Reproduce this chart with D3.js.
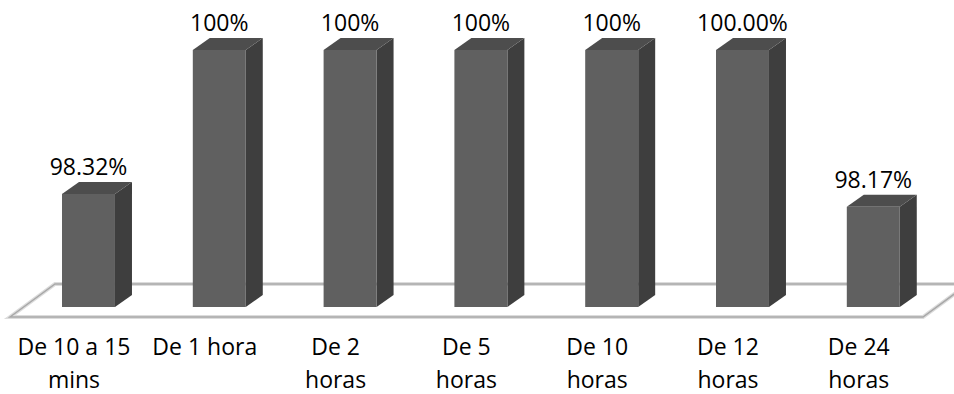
<!DOCTYPE html>
<html>
<head>
  <meta charset="utf-8">
  <title>3D bars</title>
  <script src="https://d3js.org/d3.v7.min.js"></script>
  <style>
    body { margin: 0; background: #fff; }
    text { font-family: "Open Sans", sans-serif; fill: #000; }
  </style>
</head>
<body>
  <div id="chart"></div>
  <script>
    // data
    var categories = ["De 10 a 15 mins", "De 1 hora", "De 2 horas", "De 5 horas", "De 10 horas", "De 12 horas", "De 24 horas"];
    var categoryLines = [["De 10 a 15", "mins"], ["De 1 hora"], ["De 2", "horas"], ["De 5", "horas"], ["De 10", "horas"], ["De 12", "horas"], ["De 24", "horas"]];
    var values = [98.32, 100, 100, 100, 100, 100, 98.17];
    var valueLabels = ["98.32%", "100%", "100%", "100%", "100%", "100.00%", "98.17%"];

    var width = 954, height = 394;
    var depthX = 17, depthY = -12;   // 3d offset of the bars

    var svg = d3.select("#chart").append("svg")
      .attr("width", width)
      .attr("height", height);

    // band scale for the front face of each bar
    var step = 130.8, pad = 0.595, firstLeft = 62;
    var x = d3.scaleBand()
      .domain(categories)
      .paddingInner(pad)
      .paddingOuter(0.5)
      .range([firstLeft - step * 0.5, firstLeft - step * 0.5 + step * (categories.length - pad + 1)]);

    var y = d3.scaleLinear()
      .domain([97, 100])
      .range([307, 50]);

    // floor (parallelogram)
    var floorFront = 317, floorBack = 284;
    var floorPts = [[10, floorFront], [55, floorBack], [968, floorBack], [923, floorFront]];
    svg.append("path")
      .attr("d", "M" + floorPts.map(function(p) { return p.join(","); }).join("L") + "Z")
      .attr("fill", "#fff")
      .attr("stroke", "#dcdcdc")
      .attr("stroke-width", 4);
    svg.append("path")
      .attr("d", "M" + floorPts.map(function(p) { return p.join(","); }).join("L") + "Z")
      .attr("fill", "none")
      .attr("stroke", "#a8a8a8")
      .attr("stroke-width", 1.5);

    var bars = svg.append("g").selectAll("g")
      .data(categories)
      .enter().append("g");

    // side face
    bars.append("path")
      .attr("fill", "#3e3e3e")
      .attr("d", function(d, i) {
        var x1 = x(d) + x.bandwidth(), y0 = y(97), y1 = y(values[i]);
        return "M" + x1 + "," + y0 + "L" + (x1 + depthX) + "," + (y0 + depthY) +
               "L" + (x1 + depthX) + "," + (y1 + depthY) + "L" + x1 + "," + y1 + "Z";
      });

    // top face
    bars.append("path")
      .attr("fill", "#4d4d4d")
      .attr("d", function(d, i) {
        var x0 = x(d), x1 = x(d) + x.bandwidth(), y1 = y(values[i]);
        return "M" + x0 + "," + y1 + "L" + (x0 + depthX) + "," + (y1 + depthY) +
               "L" + (x1 + depthX) + "," + (y1 + depthY) + "L" + x1 + "," + y1 + "Z";
      });

    // front face
    bars.append("rect")
      .attr("fill", "#606060")
      .attr("x", function(d) { return x(d); })
      .attr("y", function(d, i) { return y(values[i]); })
      .attr("width", x.bandwidth())
      .attr("height", function(d, i) { return y(97) - y(values[i]); });

    // value labels
    bars.append("text")
      .attr("text-anchor", "middle")
      .attr("font-size", 23)
      .attr("x", function(d) { return x(d) + x.bandwidth() / 2; })
      .attr("y", function(d, i) { return y(values[i]) - 19; })
      .text(function(d, i) { return valueLabels[i]; });

    // category labels
    var cat = svg.append("g").selectAll("text")
      .data(categories)
      .enter().append("text")
      .attr("text-anchor", "middle")
      .attr("font-size", 23)
      .attr("x", function(d) { return x(d) + x.bandwidth() / 2 - 14.5; })
      .attr("y", 355);
    cat.selectAll("tspan")
      .data(function(d, i) { return categoryLines[i]; })
      .enter().append("tspan")
      .attr("x", function() { return d3.select(this.parentNode).attr("x"); })
      .attr("dy", function(d, j) { return j === 0 ? 0 : 33; })
      .text(function(d) { return d; });
  </script>
</body>
</html>
